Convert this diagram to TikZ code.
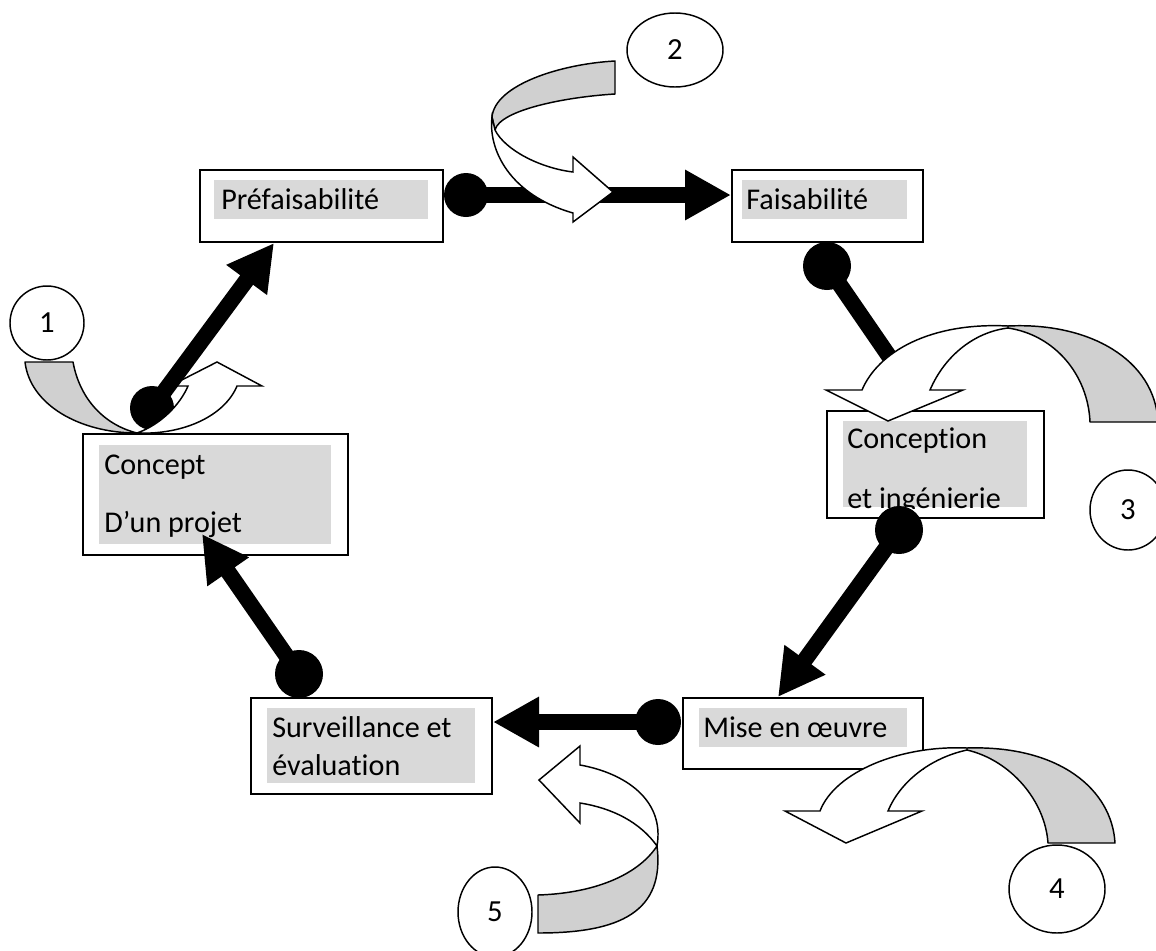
\documentclass[tikz,border=0pt]{standalone}
\usepackage{fontspec}
\setmainfont[Ligatures=NoCommon]{Carlito}
\usetikzlibrary{arrows.meta,shapes.geometric,fit,calc}
\definecolor{bandgray}{HTML}{D0D0D0}
\definecolor{txtgray}{HTML}{D9D9D9}
\begin{document}
\begin{tikzpicture}[x=0.75pt,y=-0.75pt,
  box/.style={draw=black,line width=1.5pt,fill=white,inner sep=0pt},
  txtbg/.style={fill=txtgray},
  lbl/.style={anchor=base west,inner sep=0pt,font=\fontsize{22.6pt}{26pt}\selectfont},
  numcirc/.style={ellipse,draw=black,line width=1.1pt,fill=white,inner sep=0pt,font=\fontsize{23pt}{26pt}\selectfont},
  dot/.style={circle,fill=black,inner sep=0pt},
  conn/.style={line width=12pt,-{Triangle[length=34.5pt,width=35.5pt]}},
  band/.style={draw=black,line width=1.1pt,fill=bandgray,line join=round},
  front/.style={draw=black,line width=1.1pt,fill=white,line join=miter}
]
\clip (0,0) rectangle (1156,950);
\fill[white] (0,0) rectangle (1156,950);

% boxes
\node[box,fit={(200,170)(443,242)}] (pref) {};
\node[box,fit={(732,170)(923,242)}] (fais) {};
\node[box,fit={(83,434)(348,555)}] (concept) {};
\node[box,fit={(827,411)(1044,518)}] (concep) {};
\node[box,fit={(683,698)(923,769)}] (mise) {};
\node[box,fit={(251,698)(492,794)}] (surv) {};

% text backgrounds and texts
\fill[txtbg] (214,180) rectangle (428,219);
\node[lbl] (preft) at (221,209) {Préfaisabilité};
\fill[txtbg] (742,180) rectangle (907,219);
\node[lbl] (faist) at (746,209) {Faisabilité};
\fill[txtbg] (99,445) rectangle (331,544);
\node[lbl] (conceptt1) at (104,474) {Concept};
\node[lbl] (conceptt2) at (104,532) {D’un projet};
\fill[txtbg] (843,421) rectangle (1027,507);
\begin{scope}
\clip (843,421) rectangle (1027,508);
\node[lbl] (concept1) at (847,448) {Conception};
\node[lbl] (concept2) at (847,508) {et ingénierie};
\end{scope}
\fill[txtbg] (699,708) rectangle (907,747);
\node[lbl] (miset) at (703,737) {Mise en œuvre};
\fill[txtbg] (267,708) rectangle (475,783);
\node[lbl] (survt1) at (272,737) {Surveillance et};
\node[lbl] (survt2) at (272,775) {évaluation};

% numbered ellipses
\node[numcirc,minimum width=55.5pt,minimum height=55.5pt] (n1) at (47,323) {1};
\node[numcirc,minimum width=72pt,minimum height=55.5pt] (n2) at (675,50) {2};
\node[numcirc,minimum width=57pt,minimum height=60pt] (n3) at (1128,510) {3};
\node[numcirc,minimum width=72pt,minimum height=66pt] (n4) at (1057,889) {4};
\node[numcirc,minimum width=55.5pt,minimum height=67.5pt] (n5) at (495,912) {5};

% dots (connector tails)
\node[dot,minimum size=33pt] (d1) at (466,195) {};
\node[dot,minimum size=36pt] (d2) at (827,266) {};
\node[dot,minimum size=36pt] (d3) at (899,530) {};
\node[dot,minimum size=34.5pt] (d4) at (658,722) {};
\node[dot,minimum size=36pt] (d5) at (299,674) {};
\node[dot,minimum size=33pt] (d6) at (152,408) {};
\coordinate (c2end) at (893,362);

% curved arrow 1
\draw[band] (25,362) .. controls (30,405) and (80,433) .. (137,433)
  .. controls (105,425) and (80,400) .. (73,362) -- cycle;
\draw[front] (137,433) .. controls (185,435) and (225,415) .. (237,386)
  -- (262,386) -- (217,362) -- (170,386) -- (188,386)
  .. controls (180,405) and (160,425) .. (137,433) -- cycle;

% connectors
\draw[conn] (d1.center) -- (d1 -| fais.west);
\draw[line width=12pt] (d2.center) -- (c2end);
\draw[conn] (d3.center) -- ($(mise.north west)+(96,0)$);
\draw[conn] (d4.center) -- (d4 -| surv.east);
\draw[conn] (d5.center) -- ($(concept.south west)+(120,-22)$);
\draw[conn] (d6.center) -- ($(pref.south west)+(75,0)$);

% curved arrow 2
\draw[band] (615,61) .. controls (560,64) and (495,85) .. (492,117)
  -- (495,130) .. controls (500,110) and (565,97) .. (615,94) -- cycle;
\draw[front] (492,117) .. controls (488,150) and (510,195) .. (573,213)
  -- (573,222) -- (613,192) -- (573,157) -- (573,172)
  .. controls (540,168) and (505,150) .. (495,130) -- cycle;

% curved arrow 3
\draw[band] (1008,326) .. controls (1090,322) and (1155,360) .. (1158,422)
  -- (1090,422) .. controls (1088,375) and (1055,335) .. (1008,328) -- cycle;
\draw[front] (1008,326) .. controls (930,322) and (878,352) .. (862,390)
  -- (826,390) -- (888,421) -- (963,390) -- (930,390)
  .. controls (945,355) and (975,332) .. (1008,328) -- cycle;

% curved arrow 4
\draw[band] (967,748) .. controls (1060,745) and (1112,790) .. (1115,843)
  -- (1048,843) .. controls (1045,800) and (1010,760) .. (967,750) -- cycle;
\draw[front] (967,748) .. controls (900,745) and (835,772) .. (820,811)
  -- (785,811) -- (846,843) -- (922,811) -- (888,811)
  .. controls (900,782) and (930,758) .. (967,750) -- cycle;

% curved arrow 5
\draw[band] (538,895) -- (538,933) .. controls (620,933) and (665,912) .. (657,846)
  .. controls (640,872) and (600,893) .. (538,895) -- cycle;
\draw[front] (657,846) .. controls (665,800) and (625,773) .. (580,765)
  -- (580,746) -- (539,780) -- (580,823) -- (580,803)
  .. controls (612,808) and (640,822) .. (657,846) -- cycle;
\end{tikzpicture}
\end{document}
